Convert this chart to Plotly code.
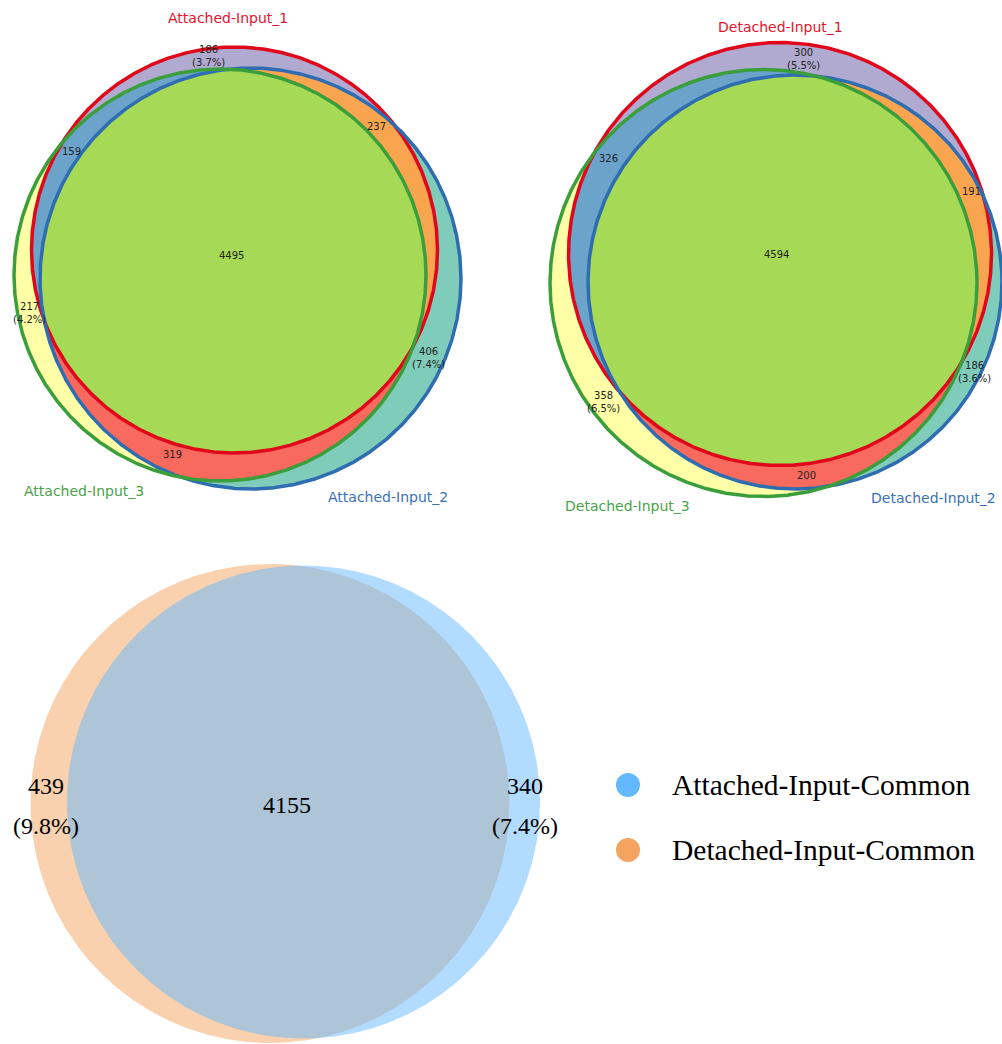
import numpy as np
import plotly.graph_objects as go

# ---------------- data ----------------
region_keys = ["100", "010", "001", "110", "101", "011", "111"]  # membership in (set1, set2, set3)

attached_sets = ["Attached-Input_1", "Attached-Input_2", "Attached-Input_3"]
attached_counts = [186, 406, 217, 237, 159, 319, 4495]

detached_sets = ["Detached-Input_1", "Detached-Input_2", "Detached-Input_3"]
detached_counts = [300, 186, 358, 191, 326, 200, 4594]

common_sets = ["Attached-Input-Common", "Detached-Input-Common"]
common_counts = [340, 439, 4155]          # attached only, detached only, both
common_pcts = ["(7.4%)", "(9.8%)"]

# ---------------- layout / style ----------------
W, H = 1002, 1044
region_colors = {"100": "#b0a9d0", "010": "#7fccba", "001": "#ffffa8",
                 "110": "#f9a54f", "101": "#6ba3cb", "011": "#f8695e", "111": "#a6d955"}
edge_colors = ["#e0071b", "#2f6db1", "#3a9e3a"]
label_colors = ["#e3142a", "#3a72b8", "#4aa34a"]

venns = [
    dict(sets=attached_sets, counts=attached_counts,
         circles=[(234.5, 250.0, 203.0), (250.5, 278.5, 210.5), (220.0, 275.0, 206.0)],
         label_pos=[(228, 18), (388, 497), (84, 491)],
         text_pos={"100": (208, 56), "010": (428, 358), "001": (29, 313), "110": (376, 126),
                   "101": (71, 151), "011": (172, 454), "111": (231, 255)}),
    dict(sets=detached_sets, counts=detached_counts,
         circles=[(780.0, 254.0, 211.5), (795.0, 282.0, 207.0), (763.5, 283.0, 213.5)],
         label_pos=[(780, 27), (933, 498), (627, 506)],
         text_pos={"100": (803, 59), "010": (974, 372), "001": (603, 402), "110": (971, 191),
                   "101": (608, 158), "011": (806, 475), "111": (776, 254)}),
]

NS = 1500


def circle_xy(c, n=NS):
    t = np.linspace(0, 2 * np.pi, n)
    return c[0] + c[2] * np.cos(t), c[1] + c[2] * np.sin(t)


def intersection_poly(circs):
    xs, ys = [], []
    for i, c in enumerate(circs):
        x, y = circle_xy(c, 3000)
        mask = np.ones_like(x, dtype=bool)
        for j, d in enumerate(circs):
            if j != i:
                mask &= (x - d[0]) ** 2 + (y - d[1]) ** 2 <= d[2] ** 2 + 1e-6
        xs.append(x[mask]); ys.append(y[mask])
    x = np.concatenate(xs); y = np.concatenate(ys)
    cx, cy = x.mean(), y.mean()
    order = np.argsort(np.arctan2(y - cy, x - cx))
    x, y = x[order], y[order]
    return np.append(x, x[0]), np.append(y, y[0])


fig = go.Figure()


def add_fill(x, y, color):
    fig.add_trace(go.Scatter(x=x, y=y, mode="lines", fill="toself", fillcolor=color,
                             line=dict(width=0, color=color), hoverinfo="skip", showlegend=False))


for v in venns:
    A, B, C = v["circles"]
    # single-set fills (painter's order)
    add_fill(*circle_xy(C), region_colors["001"])
    add_fill(*circle_xy(B), region_colors["010"])
    add_fill(*circle_xy(A), region_colors["100"])
    add_fill(*intersection_poly([A, B]), region_colors["110"])
    add_fill(*intersection_poly([A, C]), region_colors["101"])
    add_fill(*intersection_poly([B, C]), region_colors["011"])
    add_fill(*intersection_poly([A, B, C]), region_colors["111"])
    for c, col in zip([A, B, C], edge_colors):
        x, y = circle_xy(c)
        fig.add_trace(go.Scatter(x=x, y=y, mode="lines", line=dict(color=col, width=3.5),
                                 hoverinfo="skip", showlegend=False))
    # set sizes for percentages
    counts = dict(zip(region_keys, v["counts"]))
    sizes = [sum(n for k, n in counts.items() if k[i] == "1") for i in range(3)]
    for k in region_keys:
        n = counts[k]
        txt = str(n)
        if k.count("1") == 1:
            i = k.index("1")
            txt += "<br>(%.1f%%)" % (100.0 * n / sizes[i])
        px, py = v["text_pos"][k]
        fig.add_annotation(x=px, y=py, text=txt, showarrow=False,
                           font=dict(family="DejaVu Sans", size=10, color="#222222"))
    for name, (lx, ly), col in zip(v["sets"], v["label_pos"], label_colors):
        fig.add_annotation(x=lx, y=ly, text=name, showarrow=False,
                           font=dict(family="DejaVu Sans", size=14, color=col))

# ---------------- bottom two-set venn ----------------
common_colors = ["#63B8FF", "#F4A460"]
common_circles = [(303.5, 802.0, 236.5), (270.0, 803.5, 239.5)]  # attached, detached
for c, col in [(common_circles[1], "rgba(244,164,96,0.5)"), (common_circles[0], "rgba(99,184,255,0.5)")]:
    add_fill(*circle_xy(c), col)

serif = "Liberation Serif"
for txt, (px, py) in [(str(common_counts[1]), (46, 786)), (common_pcts[1], (46, 826)),
                      (str(common_counts[2]), (287, 805)),
                      (str(common_counts[0]), (525, 786)), (common_pcts[0], (525, 826))]:
    fig.add_annotation(x=px, y=py, text=txt, showarrow=False,
                       font=dict(family=serif, size=24, color="#000000"))

legend_y = [785, 850]
fig.add_trace(go.Scatter(x=[628, 628], y=legend_y, mode="markers",
                         marker=dict(size=24, color=common_colors, line=dict(width=0)),
                         hoverinfo="skip", showlegend=False))
for name, ly in zip(common_sets, legend_y):
    fig.add_annotation(x=670, y=ly, text=name, showarrow=False, xanchor="left",
                       font=dict(family=serif, size=29.5, color="#000000"))

fig.update_layout(width=W, height=H, margin=dict(l=0, r=0, t=0, b=0),
                  paper_bgcolor="white", plot_bgcolor="white",
                  xaxis=dict(range=[0, W], visible=False, fixedrange=True),
                  yaxis=dict(range=[H, 0], visible=False, fixedrange=True),
                  showlegend=False)

fig.write_html("out.html")
